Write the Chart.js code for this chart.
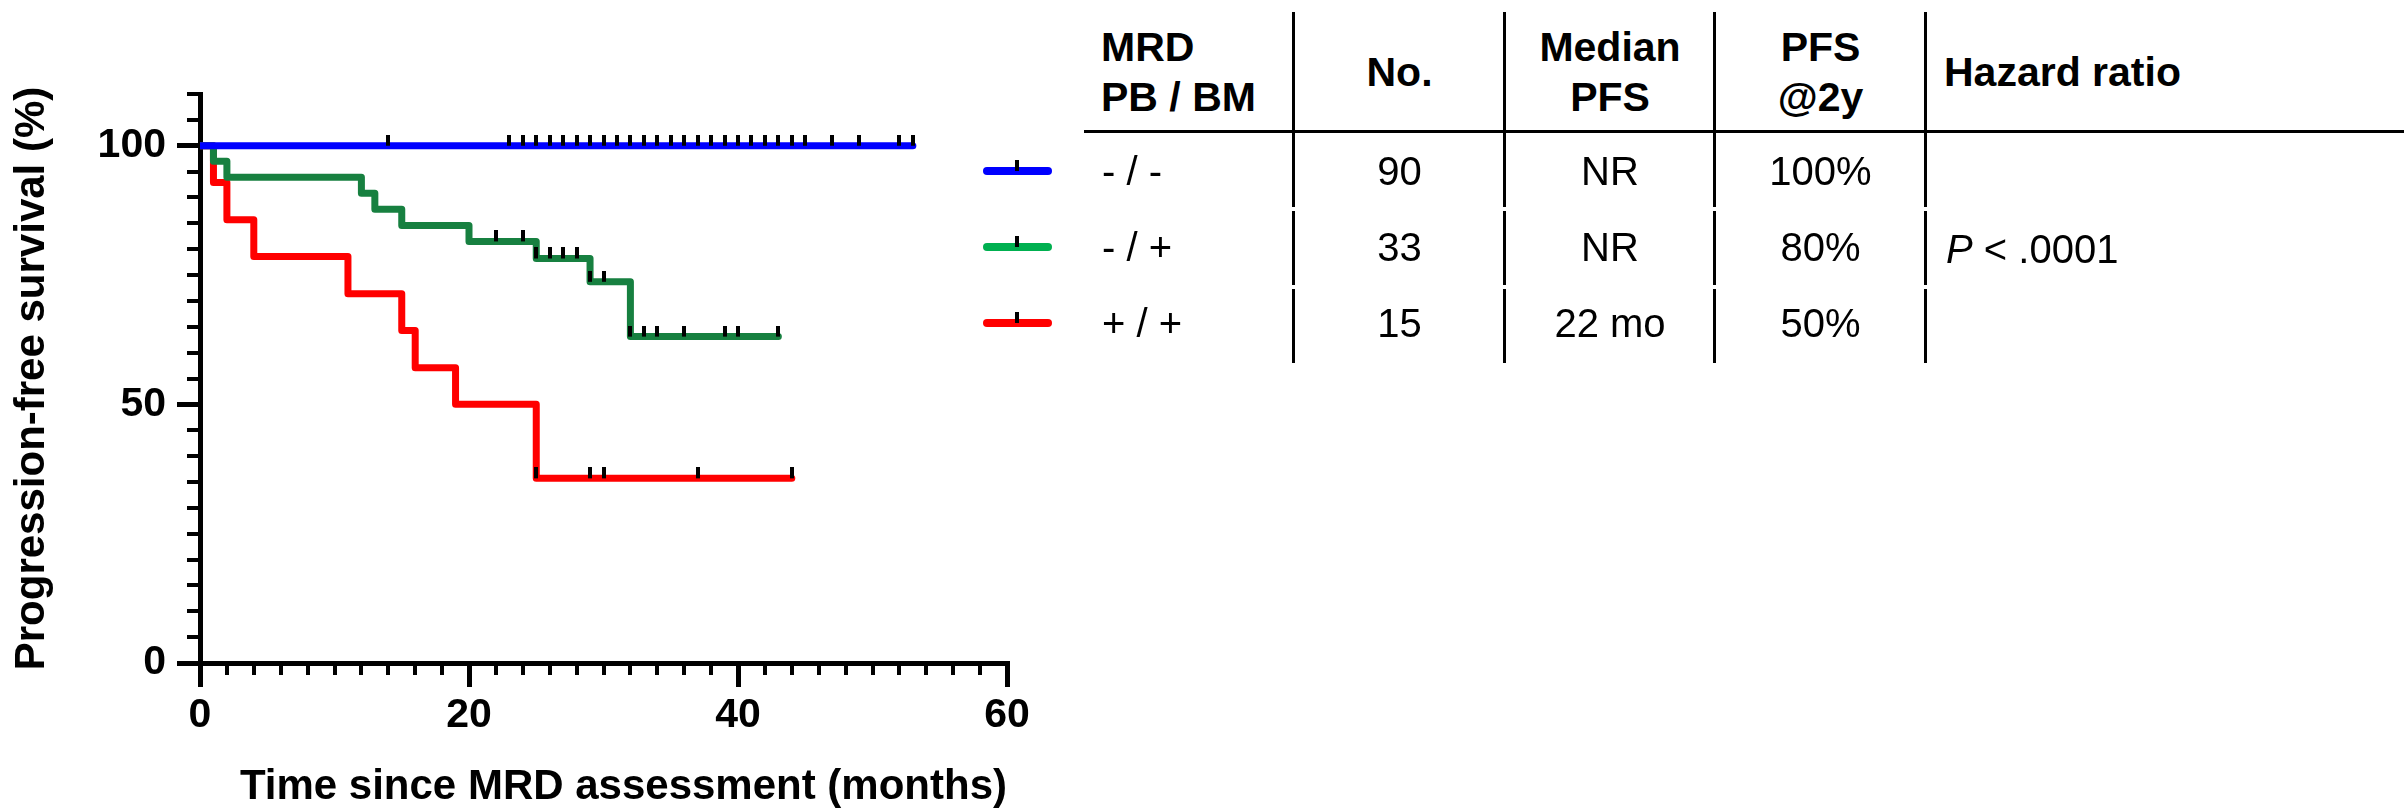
<!DOCTYPE html>
<html>
<head>
<meta charset="utf-8">
<script src="https://cdn.jsdelivr.net/npm/chart.js@4.4.1/dist/chart.umd.min.js"></script>
<style>
  body { margin: 0; background: #fff; overflow: hidden; }
  #wrap { position: relative; width: 2404px; height: 808px; }
  #km { position: absolute; left: 0; top: 0; }
  .txt { position: absolute; white-space: nowrap; line-height: 1; color: #000;
         font-family: Arial, 'Liberation Sans', Helvetica, sans-serif; }
  .bar { position: absolute; background: #000; }
</style>
</head>
<body>
<div id="wrap">
  <canvas id="km" width="1070" height="808"></canvas>
</div>
<script>
// ---- DATI ----
var xTicks = [0, 20, 40, 60];
var yTicks = [0, 50, 100];

// curve KM: tempo (mesi) e sopravvivenza dopo ogni gradino (%)
var blueTimes = [0, 53];
var blueSurv = [100, 100];
var greenTimes = [0, 1, 2, 12, 13, 15, 20, 25, 29, 32, 43];
var greenSurv = [100, 97.0, 93.9, 90.8, 87.7, 84.6, 81.5, 78.2, 73.7, 63.1, 63.1];
var redTimes = [0, 1, 2, 4, 11, 15, 16, 19, 25, 44];
var redSurv = [100, 92.9, 85.7, 78.6, 71.4, 64.3, 57.1, 50, 35.7, 35.7];

// pazienti censurati (mesi)
var blueCensor = [14, 23, 24, 25, 26, 27, 28, 29, 30, 31, 32, 33, 34, 35, 36, 37, 38, 39, 40, 41, 42, 43, 44, 45, 47, 49, 52, 53];
var greenCensor = [22, 24, 25, 26, 27, 28, 29, 30, 32, 33, 34, 36, 39, 40, 43];
var redCensor = [25, 29, 30, 37, 44];

// tabella a destra
var groups = ['- / -', '- / +', '+ / +'];
var patients = ['90', '33', '15'];
var medianPfs = ['NR', 'NR', '22 mo'];
var pfs2y = ['100%', '80%', '50%'];
var pValue = '< .0001';

var plotColors = ['#0000ff', '#178040', '#ff0000'];
var legendColors = ['#0000ff', '#00b050', '#ff0000'];

// ---- HELPERS ----
function survAt(times, surv, t) {
  var s = surv[0];
  for (var i = 0; i < times.length; i++) {
    if (times[i] <= t) s = surv[i];
  }
  return s;
}
function kmPoints(times, surv) {
  return times.map(function(t, i){ return {x: t, y: surv[i]}; });
}
function censorPoints(censor, times, surv) {
  return censor.map(function(t){ return {x: t, y: survAt(times, surv, t)}; });
}

// segno di censura: trattino nero sopra la linea
var mark = document.createElement('canvas');
mark.width = 4;
mark.height = 22;
var mctx = mark.getContext('2d');
mctx.fillStyle = '#000';
mctx.fillRect(0, 0, 4, 11);

function kmSet(times, surv, color, order) {
  return {
    data: kmPoints(times, surv),
    borderColor: color,
    borderWidth: 7,
    stepped: true,
    pointRadius: 0,
    borderCapStyle: 'round',
    borderJoinStyle: 'round',
    fill: false,
    order: order
  };
}
function censorSet(censor, times, surv) {
  return {
    data: censorPoints(censor, times, surv),
    showLine: false,
    pointStyle: mark,
    pointRadius: 6,
    order: 0
  };
}

var tickFont = { family: "Arial, 'Liberation Sans', sans-serif", size: 41, weight: 'bold' };
var titleFont = { family: "Arial, 'Liberation Sans', sans-serif", size: 42, weight: 'bold', lineHeight: 1 };

// ---- GRAFICO ----
var ctx = document.getElementById('km');
var chart = new Chart(ctx, {
  type: 'line',
  data: {
    datasets: [
      censorSet(blueCensor, blueTimes, blueSurv),
      censorSet(greenCensor, greenTimes, greenSurv),
      censorSet(redCensor, redTimes, redSurv),
      kmSet(blueTimes, blueSurv, plotColors[0], 1),
      kmSet(greenTimes, greenSurv, plotColors[1], 2),
      kmSet(redTimes, redSurv, plotColors[2], 3)
    ]
  },
  options: {
    responsive: false,
    animation: false,
    layout: { padding: { top: 94, right: 63, bottom: 0, left: 0 } },
    plugins: { legend: { display: false }, tooltip: { enabled: false } },
    scales: {
      x: {
        type: 'linear', position: 'bottom', min: 0, max: 60, weight: 1,
        afterBuildTicks: function(scale){ scale.ticks = xTicks.map(function(v){ return {value: v}; }); },
        afterFit: function(scale){ scale.height = 145; },
        grid: { drawOnChartArea: false, color: '#000', lineWidth: 5, tickLength: 24 },
        border: { display: true, color: '#000', width: 5 },
        ticks: { color: '#000', font: tickFont, padding: 4, maxRotation: 0, autoSkip: false },
        title: { display: true, text: 'Time since MRD assessment (months)', color: '#000',
                 font: titleFont, align: 'end', padding: { top: 0, bottom: 0 } }
      },
      xMinor: {
        type: 'linear', position: 'bottom', min: 0, max: 60, weight: 0,
        afterFit: function(scale){ scale.height = 0; },
        grid: { drawOnChartArea: false, color: '#000', lineWidth: 4, tickLength: 12 },
        border: { display: false },
        ticks: { stepSize: 2, display: false, autoSkip: false, callback: function(){ return ''; } }
      },
      y: {
        type: 'linear', position: 'left', min: 0, max: 110, weight: 1,
        afterBuildTicks: function(scale){ scale.ticks = yTicks.map(function(v){ return {value: v}; }); },
        afterFit: function(scale){ scale.width = 200; },
        grid: { drawOnChartArea: false, color: '#000', lineWidth: 5, tickLength: 23 },
        border: { display: true, color: '#000', width: 5 },
        ticks: { color: '#000', font: tickFont, padding: 11, autoSkip: false },
        title: { display: true, text: 'Progression-free survival (%)', color: '#000',
                 font: titleFont, padding: { top: 11, bottom: 0 } }
      },
      yMinor: {
        type: 'linear', position: 'left', min: 0, max: 110, weight: 0,
        afterFit: function(scale){ scale.width = 0; },
        grid: { drawOnChartArea: false, color: '#000', lineWidth: 4, tickLength: 13 },
        border: { display: false },
        ticks: { stepSize: 5, display: false, autoSkip: false, callback: function(){ return ''; } }
      }
    }
  }
});

// ---- TABELLA / LEGENDA ----
var wrap = document.getElementById('wrap');
function addText(html, x, cy, size, bold, align) {
  var d = document.createElement('div');
  d.className = 'txt';
  d.innerHTML = html;
  d.style.fontSize = size + 'px';
  d.style.fontWeight = bold ? 'bold' : 'normal';
  d.style.top = (cy - 0.4885 * size) + 'px';
  d.style.left = x + 'px';
  if (align === 'center') d.style.transform = 'translateX(-50%)';
  wrap.appendChild(d);
}
function addBar(x, y, w, h, color, radius) {
  var d = document.createElement('div');
  d.className = 'bar';
  d.style.left = x + 'px';
  d.style.top = y + 'px';
  d.style.width = w + 'px';
  d.style.height = h + 'px';
  if (color) d.style.background = color;
  if (radius) d.style.borderRadius = radius + 'px';
  wrap.appendChild(d);
}

// righe della griglia
addBar(1084, 129.5, 1320, 3);
[1293, 1504, 1714, 1925].forEach(function(x){
  addBar(x - 1.5, 12, 3, 195);
  addBar(x - 1.5, 211, 3, 74);
  addBar(x - 1.5, 289, 3, 74);
});

// intestazione
var colNo = 1399.5, colMed = 1610, colPfs = 1820.5;
addText('MRD', 1101, 47.5, 41, true);
addText('PB / BM', 1101, 97.5, 41, true);
addText('No.', colNo, 72.5, 41, true, 'center');
addText('Median', colMed, 47.5, 41, true, 'center');
addText('PFS', colMed, 97.5, 41, true, 'center');
addText('PFS', colPfs, 47.5, 41, true, 'center');
addText('@2y', colPfs, 97.5, 41, true, 'center');
addText('Hazard ratio', 1944, 72.5, 41, true);

// righe
var rowY = [170.5, 247, 323];
groups.forEach(function(g, i){
  var cy = rowY[i];
  addBar(983, cy - 4, 69, 8, legendColors[i], 4);
  addBar(1015, cy - 11, 4, 11, '#000');
  addText(g, 1102, cy, 40, false);
  addText(patients[i], colNo, cy, 40, false, 'center');
  addText(medianPfs[i], colMed, cy, 40, false, 'center');
  addText(pfs2y[i], colPfs, cy, 40, false, 'center');
});
addText('<i>P</i> ' + pValue.replace('<', '&lt;'), 1946, rowY[1] + 1.5, 40, false);
</script>
</body>
</html>
